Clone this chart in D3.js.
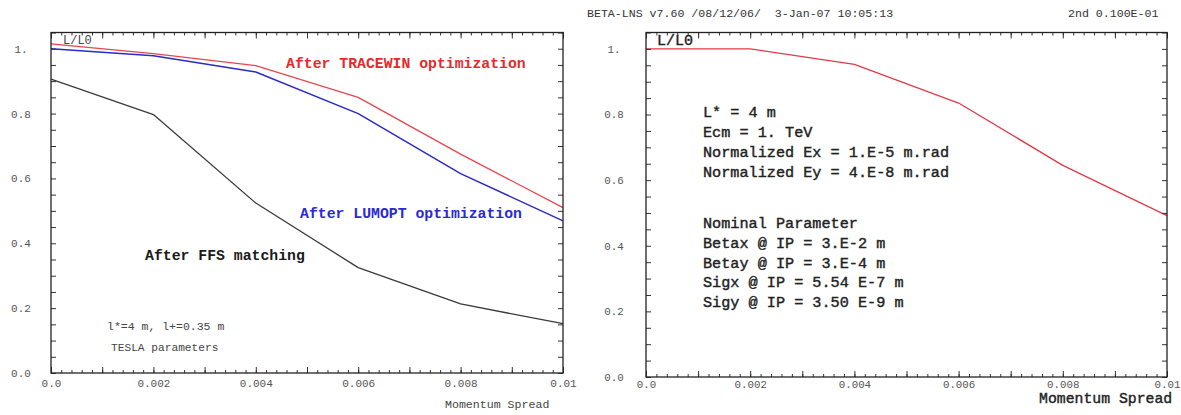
<!DOCTYPE html>
<html>
<head>
<meta charset="utf-8">
<script src="https://cdn.jsdelivr.net/npm/d3@7"></script>
<style>
  html, body { margin: 0; padding: 0; background: #fff; }
  svg { display: block; }
  text { font-family: "Liberation Mono", "DejaVu Sans Mono", monospace; }
</style>
</head>
<body>
<svg id="chart" width="1181" height="415"></svg>
<script>
// ---- data ----
const momentum = [0, 0.002, 0.004, 0.006, 0.008, 0.01];
const tracewin = [1.015, 0.985, 0.948, 0.850, 0.675, 0.510];
const lumopt   = [1.000, 0.978, 0.928, 0.800, 0.615, 0.469];
const ffsMatch = [0.906, 0.797, 0.524, 0.325, 0.213, 0.152];
const betaLns  = [1.000, 1.000, 0.953, 0.835, 0.645, 0.492];

const xTickValues = [0, 0.002, 0.004, 0.006, 0.008, 0.01];
const xTickLabels = ["0.0", "0.002", "0.004", "0.006", "0.008", "0.01"];
const yTickValues = [0, 0.2, 0.4, 0.6, 0.8, 1.0];
const yTickLabels = ["0.0", "0.2", "0.4", "0.6", "0.8", "1."];

const headerLeft = "BETA-LNS v7.60 /08/12/06/  3-Jan-07 10:05:13";
const headerRight = "2nd 0.100E-01";
const paramLines1 = ["L* = 4 m", "Ecm = 1. TeV", "Normalized Ex = 1.E-5 m.rad", "Normalized Ey = 4.E-8 m.rad"];
const paramLines2 = ["Nominal Parameter", "Betax @ IP = 3.E-2 m", "Betay @ IP = 3.E-4 m", "Sigx @ IP = 5.54 E-7 m", "Sigy @ IP = 3.50 E-9 m"];

const svg = d3.select("#chart");

function drawFrame(g, x, y, opt) {
  const [x0, x1] = x.range();
  const [y0, y1] = y.range();
  const axisColor = "#333";
  const xMinor = d3.range(0, 0.01 + 1e-9, 0.0002);
  const xMid = d3.range(0, 0.01 + 1e-9, 0.001);
  const yMinor = d3.range(0, 1.05 + 1e-9, 0.05);

  const mk = (axisFn, scale, vals, size, transform) => {
    const a = g.append("g").attr("transform", transform)
      .call(axisFn(scale).tickValues(vals).tickSize(size).tickFormat(""));
    a.select(".domain").remove();
    a.selectAll("line").attr("stroke", axisColor).attr("stroke-width", 1);
  };
  mk(d3.axisBottom, x, xMinor, -3, `translate(0,${y0})`);
  mk(d3.axisBottom, x, xMid, -6, `translate(0,${y0})`);
  mk(d3.axisTop, x, xMinor, -3, `translate(0,${y1})`);
  mk(d3.axisTop, x, xMid, -6, `translate(0,${y1})`);
  mk(d3.axisLeft, y, yMinor, -5, `translate(${x0},0)`);
  mk(d3.axisRight, y, yMinor, -5, `translate(${x1},0)`);

  g.append("rect").attr("x", x0).attr("y", y1).attr("width", x1 - x0).attr("height", y0 - y1)
    .attr("fill", "none").attr("stroke", "#222").attr("stroke-width", 1.3);

  const xl = g.append("g").attr("transform", `translate(0,${y0 + opt.xLabelDy})`)
    .call(d3.axisBottom(x).tickValues(xTickValues).tickSize(0)
      .tickFormat((d, i) => xTickLabels[i]));
  xl.select(".domain").remove();
  xl.selectAll("text").attr("font-family", "Liberation Mono, monospace")
    .attr("font-size", opt.tickFont).attr("fill", "#555").attr("dy", "0.35em").attr("y", 0);

  const yl = g.append("g").attr("transform", `translate(${opt.yLabelX},0)`)
    .call(d3.axisLeft(y).tickValues(yTickValues).tickSize(0)
      .tickFormat((d, i) => yTickLabels[i]));
  yl.select(".domain").remove();
  yl.selectAll("text").attr("font-family", "Liberation Mono, monospace")
    .attr("font-size", opt.tickFont).attr("fill", "#555").attr("text-anchor", "middle").attr("x", 0);
}

function drawLine(g, x, y, vals, color, width) {
  const line = d3.line().x((d, i) => x(momentum[i])).y(d => y(d));
  g.append("path").datum(vals).attr("d", line)
    .attr("fill", "none").attr("stroke", color).attr("stroke-width", width)
    .attr("stroke-linejoin", "round");
}

// ---- left panel ----
const gL = svg.append("g");
const xL = d3.scaleLinear().domain([0, 0.01]).range([51, 563]);
const yL = d3.scaleLinear().domain([0, 1.05]).range([373, 32.5]);

drawLine(gL, xL, yL, ffsMatch, "#3a3a3a", 1.3);
drawLine(gL, xL, yL, lumopt, "#2b2bc8", 1.5);
drawLine(gL, xL, yL, tracewin, "#e8454c", 1.3);
drawFrame(gL, xL, yL, { xLabelDy: 10, yLabelX: 21, tickFont: 11 });

gL.append("text").attr("x", 63).attr("y", 44).attr("font-size", 12).attr("fill", "#444").text("L/L0");
gL.append("text").attr("x", 286).attr("y", 68).attr("font-size", 14.8).attr("font-weight", "bold")
  .attr("fill", "#e42a2a").text("After TRACEWIN optimization");
gL.append("text").attr("x", 300).attr("y", 218).attr("font-size", 14.8).attr("font-weight", "bold")
  .attr("fill", "#2a2ad4").text("After LUMOPT optimization");
gL.append("text").attr("x", 145).attr("y", 260).attr("font-size", 14.8).attr("font-weight", "bold")
  .attr("fill", "#1a1a1a").text("After FFS matching");
gL.append("text").attr("x", 107).attr("y", 330).attr("font-size", 11.5).attr("fill", "#444")
  .text("l*=4 m, l+=0.35 m");
gL.append("text").attr("x", 111).attr("y", 351).attr("font-size", 11.2).attr("fill", "#444")
  .text("TESLA parameters");
gL.append("text").attr("x", 445).attr("y", 408).attr("font-size", 11.6).attr("fill", "#444")
  .text("Momentum Spread");

// ---- right panel ----
const gR = svg.append("g");
const xR = d3.scaleLinear().domain([0, 0.01]).range([646, 1167]);
const yR = d3.scaleLinear().domain([0, 1.05]).range([377, 32.5]);

drawLine(gR, xR, yR, betaLns, "#e03a46", 1.3);
drawFrame(gR, xR, yR, { xLabelDy: 7.5, yLabelX: 614, tickFont: 10.8 });

gR.append("text").attr("x", 587).attr("y", 17).attr("font-size", 11.6).attr("fill", "#333").text(headerLeft)
  .attr("xml:space", "preserve").style("white-space", "pre");
gR.append("text").attr("x", 1068).attr("y", 17).attr("font-size", 11.6).attr("fill", "#333").text(headerRight);
gR.append("text").attr("x", 657).attr("y", 45).attr("font-size", 15).attr("fill", "#222")
  .attr("stroke", "#222").attr("stroke-width", 0.4).text("L/L0");

const pBlock = gR.append("g").attr("fill", "#222").attr("stroke", "#222").attr("stroke-width", 0.4)
  .attr("font-size", 15.2);
paramLines1.forEach((t, i) => pBlock.append("text").attr("x", 703).attr("y", 117 + i * 20.1).text(t));
paramLines2.forEach((t, i) => pBlock.append("text").attr("x", 703).attr("y", 228 + i * 19.8).text(t));

gR.append("text").attr("x", 1039).attr("y", 403).attr("font-size", 14.8).attr("fill", "#222")
  .attr("stroke", "#222").attr("stroke-width", 0.4).text("Momentum Spread");
</script>
</body>
</html>
